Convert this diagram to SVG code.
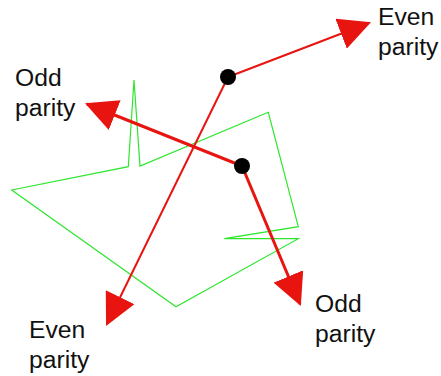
<svg xmlns="http://www.w3.org/2000/svg" width="441" height="376" viewBox="0 0 441 376">
  <style>
    .green { fill: none; stroke: #2ee62e; stroke-width: 1.2; stroke-linejoin: miter; }
    .even { stroke: #e81410; stroke-width: 2; fill: none; }
    .odd { stroke: #e81410; stroke-width: 3; fill: none; }
    .dot { fill: #000; }
    .lbl { font-family: "Liberation Sans", Arial, sans-serif; font-size: 24.7px; fill: #111; }
  </style>
  <defs>
    <marker id="arrow" markerUnits="userSpaceOnUse" markerWidth="32" markerHeight="32" viewBox="0 0 30 30" refX="28" refY="15" orient="auto">
      <path d="M0,0 L30,15 L0,30 z" fill="#e81410"/>
    </marker>
  </defs>
  <rect width="441" height="376" fill="#fff"/>
  <g id="curve">
    <polygon class="green" points="128.3,166.7 134,80 140,166 268.3,112.3 298.3,226.7 224.3,238.7 298.3,238.7 176,306.7 11.7,190"/>
  </g>
  <g id="connectors">
    <line class="even" x1="228" y1="77" x2="369" y2="23" marker-end="url(#arrow)"/>
    <line class="even" x1="228" y1="77" x2="107" y2="324" marker-end="url(#arrow)"/>
    <line class="odd" x1="242" y1="166" x2="87" y2="104" marker-end="url(#arrow)"/>
    <line class="odd" x1="242" y1="166" x2="300" y2="304" marker-end="url(#arrow)"/>
  </g>
  <g id="point-a"><circle class="dot" cx="228" cy="77" r="8"/></g>
  <g id="point-b"><circle class="dot" cx="242" cy="166" r="8"/></g>
  <g id="label-even-top"><text class="lbl" x="378" y="25">Even</text><text class="lbl" x="378" y="55">parity</text></g>
  <g id="label-odd-left"><text class="lbl" x="15" y="86">Odd</text><text class="lbl" x="15" y="116">parity</text></g>
  <g id="label-odd-right"><text class="lbl" x="315" y="312">Odd</text><text class="lbl" x="315" y="342">parity</text></g>
  <g id="label-even-bottom"><text class="lbl" x="29" y="338">Even</text><text class="lbl" x="29" y="368">parity</text></g>
</svg>
